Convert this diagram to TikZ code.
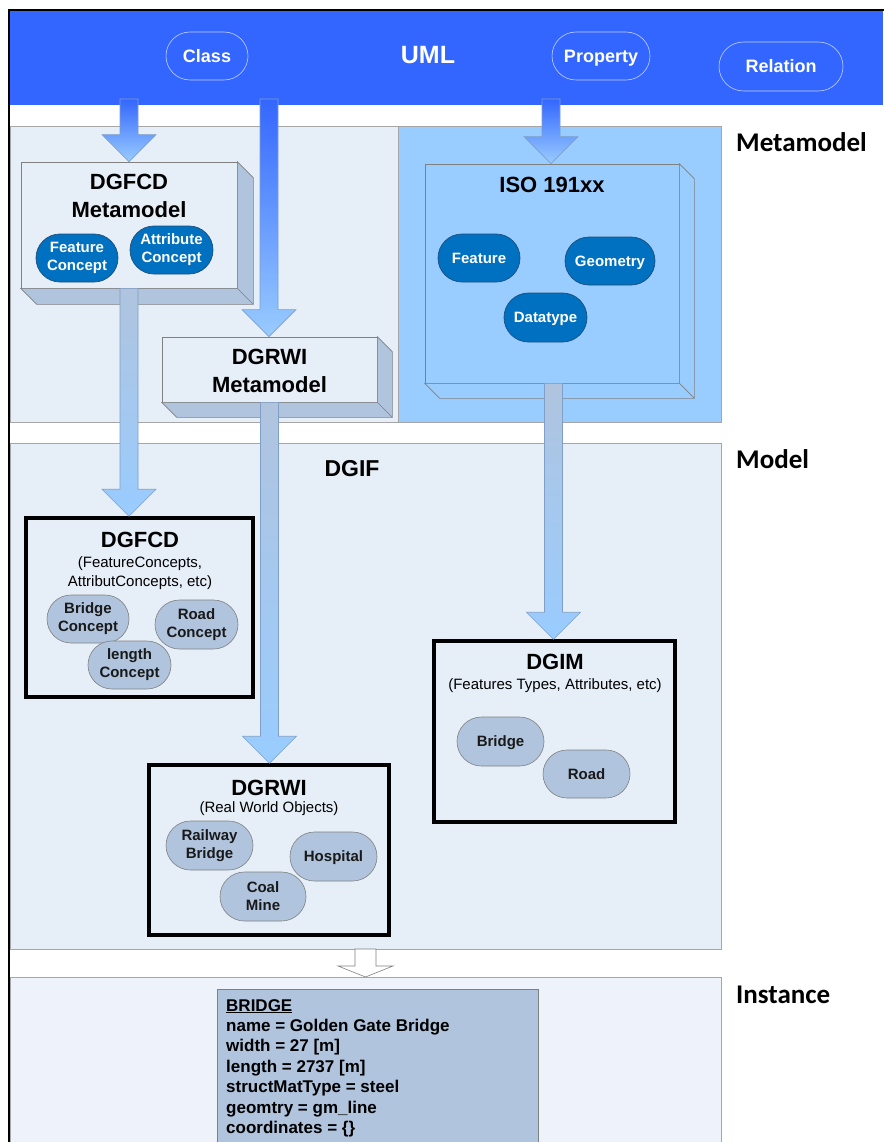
\documentclass[tikz,border=0pt]{standalone}
\usepackage{fontspec}
\setmainfont{Liberation Sans}
\newfontfamily\levelfont{Carlito}
\usetikzlibrary{shapes.misc,calc}

\definecolor{umlblue}{HTML}{3366FF}
\definecolor{panel}{HTML}{E6EEF8}
\definecolor{panellight}{HTML}{EEF2FA}
\definecolor{isoblue}{HTML}{99CCFF}
\definecolor{steel}{HTML}{B0C4DE}
\definecolor{darkpill}{HTML}{0070C0}
\definecolor{darkpillline}{HTML}{1F4E79}
\definecolor{frameline}{HTML}{A6A6A6}
\definecolor{arrowline}{HTML}{7F9FC8}

\tikzset{
  panelbox/.style={fill=panel, draw=frameline, line width=0.8pt},
  umlpill/.style={rounded rectangle, draw=white!70!umlblue, line width=0.6pt,
    text=white, font=\bfseries\fontsize{18}{20}\selectfont, inner sep=0pt,
    text height=12.9pt, text depth=0pt},
  darkconcept/.style={rounded rectangle, fill=darkpill, draw=darkpillline, line width=0.7pt,
    text=white, font=\bfseries\fontsize{15}{18}\selectfont, align=center, inner sep=0pt},
  lightconcept/.style={rounded rectangle, fill=steel, draw=gray, line width=0.6pt,
    text=black!90, font=\bfseries\fontsize{15}{18}\selectfont, align=center, inner sep=0pt},
  oneline/.style={text height=10.7pt, text depth=0pt},
  modelbox/.style={draw=black, line width=3.5pt, fill=panel, inner sep=0pt},
  cubefront/.style={draw=gray, line width=0.7pt, inner sep=0pt},
  cubeside/.style={draw=gray, line width=0.7pt},
  bigtitle/.style={font=\bfseries\fontsize{22}{26}\selectfont, inner sep=0pt},
  subtitle/.style={font=\fontsize{15}{19}\selectfont, align=center, inner sep=0pt},
  levellabel/.style={font=\levelfont\bfseries\fontsize{27}{30}\selectfont, anchor=base west, inner sep=0pt},
}

% block arrow from #1 down to the tip at #2, shaft on the x of #1
\newcommand{\blockarrow}[5]{%
  \shade[top color=#3, bottom color=#4, draw=#5, line width=0.6pt]
    let \p1=(#1), \p2=(#2) in
    (\x1-9pt,\y1) -- (\x1+9pt,\y1) -- (\x1+9pt,\y2+27pt) -- (\x1+27pt,\y2+27pt)
    -- (\x1,\y2) -- (\x1-27pt,\y2+27pt) -- (\x1-9pt,\y2+27pt) -- cycle;}

% side and bottom faces of a box seen from above left
\newcommand{\cubefaces}[3]{%
  \filldraw[cubeside, fill=#3]
    (#1.north east) -- ++(#2,#2) -- ([shift={(#2,#2)}]#1.south east)
    -- ([shift={(#2,#2)}]#1.south west) -- (#1.south west) -- (#1.south east) -- cycle;
  \draw[cubeside] (#1.south east) -- ++(#2,#2);}

\begin{document}
\begin{tikzpicture}[x=1pt, y=-1pt]
\useasboundingbox (0,0) rectangle (883,1142);
\fill[white] (0,0) rectangle (883,1142);

% level panels
\fill[umlblue] (10,11) rectangle (883,105);
\draw[panelbox] (10,126) rectangle (398,422);
\draw[panelbox, fill=isoblue] (398,126) rectangle (721,422);
\draw[panelbox] (10,443) rectangle (721,949);
\draw[panelbox, fill=panellight] (10,977) rectangle (721,1150);
\draw[black, line width=2pt] (9,1150) -- (9,10) -- (890,10);

% UML header
\node[font=\bfseries\fontsize{25}{28}\selectfont, text=white] (uml) at (428,55) {UML};
\node[umlpill, minimum width=82, minimum height=48] (class) at (207,56) {Class};
\node[umlpill, minimum width=98, minimum height=48] (property) at (601,56) {Property};
\node[umlpill, minimum width=124, minimum height=49] (relation) at (781,66.5) {Relation};
\coordinate (srcA) at (129,99);
\coordinate (srcB) at (269,99);
\coordinate (srcC) at (551,99);

% metamodel boxes
\node[cubefront, fill=panel, minimum width=216, minimum height=126] (dgfcdmm) at (129,225) {};
\cubefaces{dgfcdmm}{16}{steel}
\node[bigtitle, align=center] at (129,196) {DGFCD\\[2pt]Metamodel};
\node[darkconcept, minimum width=82, minimum height=48] (featconcept) at (77,258) {Feature\\Concept};
\node[darkconcept, minimum width=83, minimum height=48] (attrconcept) at (171.5,250) {Attribute\\Concept};

\node[cubefront, fill=panel, minimum width=215, minimum height=65] (dgrwimm) at (269.5,369.5) {};
\cubefaces{dgrwimm}{15}{steel}
\node[bigtitle, align=center] at (269.5,370.5) {DGRWI\\[2pt]Metamodel};

\node[cubefront, fill=isoblue, minimum width=254, minimum height=219] (iso) at (552,273.5) {};
\cubefaces{iso}{15}{isoblue}
\node[bigtitle] at (552,185) {ISO 191xx};
\node[darkconcept, oneline, minimum width=82, minimum height=48] (feature) at (479,258) {Feature};
\node[darkconcept, oneline, minimum width=90, minimum height=48] (geometry) at (610,261) {Geometry};
\node[darkconcept, oneline, minimum width=83, minimum height=49] (datatype) at (545.5,317.5) {Datatype};

% model level
\node[bigtitle, font=\bfseries\fontsize{23}{26}\selectfont] (dgif) at (352,469) {DGIF};

\node[modelbox, minimum width=227, minimum height=179] (dgfcd) at (139.5,607.5) {};
\node[bigtitle] at (140,540) {DGFCD};
\node[subtitle] at (140,573) {(FeatureConcepts,\\AttributConcepts, etc)};
\node[lightconcept, minimum width=82, minimum height=48] (bridgeconcept) at (88,619) {Bridge\\Concept};
\node[lightconcept, minimum width=83, minimum height=49] (roadconcept) at (196.5,624.5) {Road\\Concept};
\node[lightconcept, minimum width=83, minimum height=48] (lengthconcept) at (129.5,665) {length\\Concept};

\node[modelbox, minimum width=240, minimum height=170] (dgrwi) at (269,850) {};
\node[bigtitle] at (269,788) {DGRWI};
\node[subtitle] at (269,809) {(Real World Objects)};
\node[lightconcept, minimum width=87, minimum height=49] (railway) at (209.5,845.5) {Railway\\Bridge};
\node[lightconcept, oneline, minimum width=87, minimum height=49] (hospital) at (333.5,856.5) {Hospital};
\node[lightconcept, minimum width=86, minimum height=49] (coalmine) at (263,896.5) {Coal\\Mine};

\node[modelbox, minimum width=241, minimum height=181] (dgim) at (554.5,731.5) {};
\node[bigtitle] at (555,662) {DGIM};
\node[subtitle] at (555,686) {(Features Types, Attributes, etc)};
\node[lightconcept, oneline, minimum width=87, minimum height=49] (bridge) at (500.5,741.5) {Bridge};
\node[lightconcept, oneline, minimum width=87, minimum height=48] (road) at (586.5,774) {Road};

% arrows between levels
\blockarrow{srcA}{dgfcdmm.north -| srcA}{umlblue}{isoblue}{arrowline}
\blockarrow{srcB}{dgrwimm.north}{umlblue}{isoblue}{arrowline}
\blockarrow{srcC}{iso.north -| srcC}{umlblue}{isoblue}{arrowline}
\coordinate (fromA) at (dgfcdmm.south -| srcA);
\blockarrow{fromA}{dgfcd.north -| srcA}{steel}{isoblue}{arrowline}
\blockarrow{dgrwimm.south}{dgrwi.north}{steel}{isoblue}{arrowline}
\coordinate (fromC) at ([xshift=1.5pt]iso.south);
\blockarrow{fromC}{dgim.north -| fromC}{steel}{isoblue}{arrowline}

% model to instance
\coordinate (modelout) at (365.5,949);
\coordinate (instin) at (365.5,977);
\filldraw[fill=white, draw=gray, line width=0.6pt]
  let \p1=(modelout), \p2=(instin) in
  (\x1-10.5pt,\y1) -- (\x1+10.5pt,\y1) -- (\x1+10.5pt,\y2+11pt) -- (\x1+27.5pt,\y2+11pt)
  -- (\x1,\y2) -- (\x1-27.5pt,\y2+11pt) -- (\x1-10.5pt,\y2+11pt) -- cycle;

% instance
\draw[fill=steel, draw=gray, line width=0.7pt] (217,989) rectangle (538,1150);
\node[anchor=north west, inner sep=0pt, align=left, font=\bfseries\fontsize{17}{20.4}\selectfont] (instance) at (226,999)
  {\underline{BRIDGE}\\
   name = Golden Gate Bridge\\
   width = 27 [m]\\
   length = 2737 [m]\\
   structMatType = steel\\
   geomtry = gm\_line\\
   coordinates = \{\}};

% level names
\node[levellabel] (lvlmeta) at (736,152) {Metamodel};
\node[levellabel] (lvlmodel) at (736,468) {Model};
\node[levellabel] (lvlinst) at (736,1003) {Instance};
\end{tikzpicture}
\end{document}
